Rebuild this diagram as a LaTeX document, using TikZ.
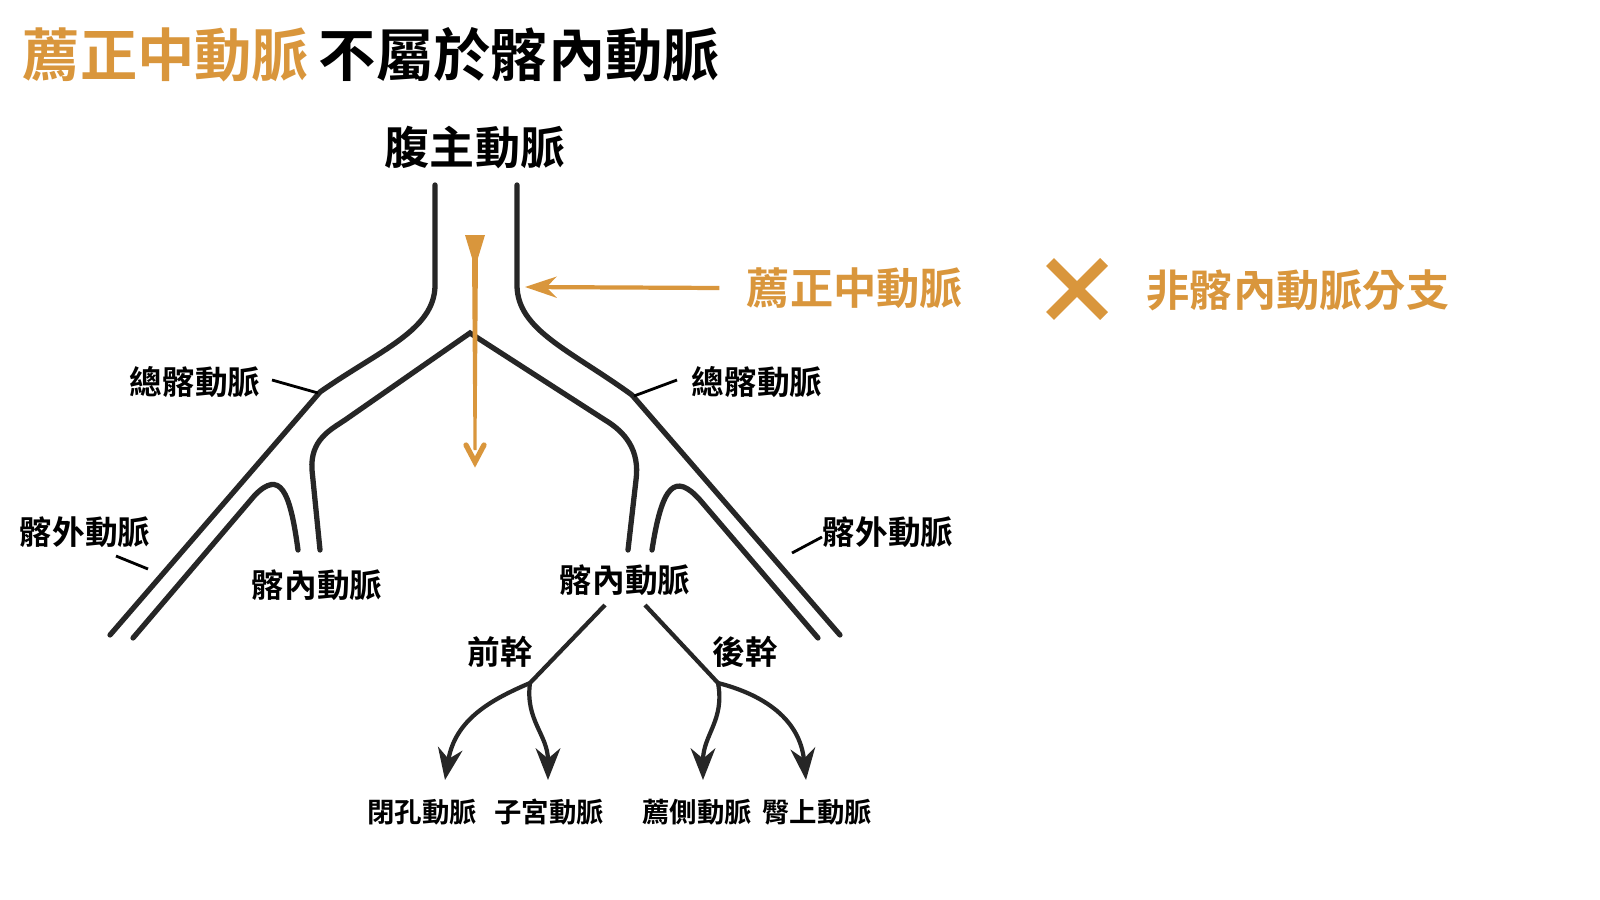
\documentclass[tikz,border=0pt]{standalone}
\usepackage{fontspec}
\setmainfont{Noto Sans CJK TC}
\newfontfamily\cjkb{Noto Sans CJK TC Bold}
\usetikzlibrary{arrows.meta}
\definecolor{org}{HTML}{D9963C}
\begin{document}
\begin{tikzpicture}[x=0.01cm,y=-0.01cm,
  vessel/.style={line width=1.5pt,line cap=round,black!85},
  lbl/.style={font=\cjkb\fontsize{9.3}{10}\selectfont,inner sep=1pt},
  sub/.style={font=\cjkb\fontsize{7.8}{9}\selectfont,inner sep=1pt},
  lead/.style={line width=0.8pt},
  br/.style={line width=1.2pt,black!85,-{Stealth[length=9pt,width=7pt]}}]
\useasboundingbox (0,0) rectangle (1600,900);
\fill[white] (0,0) rectangle (1600,900);
% title
\node[anchor=west,inner sep=0,font=\cjkb\fontsize{16.3}{18}\selectfont] (title) at (22,55) {\textcolor{org}{薦正中動脈}\,不屬於髂內動脈};
\node[font=\cjkb\fontsize{12.8}{14}\selectfont] (aorta) at (475,148) {腹主動脈};
% vessels
\draw[vessel] (435,185) -- (435,285) .. controls (435,330) and (380,350) .. (320,392) -- (110,635);
\draw[vessel] (133,638) -- (255,495) .. controls (280,470) and (290,490) .. (298,550);
\draw[vessel] (320,550) -- (312,470) .. controls (310,440) and (330,430) .. (345,420) -- (470,333) -- (605,420) .. controls (625,432) and (640,450) .. (636,480) -- (628,550);
\draw[vessel] (517,185) -- (517,285) .. controls (517,330) and (570,350) .. (632,395) -- (840,635);
\draw[vessel] (818,638) -- (700,500) .. controls (675,472) and (662,485) .. (652,550);
% orange arrow
\fill[org] (465,235) -- (485,235) -- (478,258) -- (472,258) -- cycle;
\fill[org] (472,255) -- (478,255) -- (476.5,450) -- (473.5,450) -- cycle;
\draw[org,line width=1.5pt,line cap=round] (466,445) -- (475,462) -- (484,445);
% label arrow
\node[font=\cjkb\fontsize{12.3}{14}\selectfont,text=org] (med) at (855,288) {薦正中動脈};
\coordinate (tip) at (525,287);
\draw[org,line width=1.2pt,-{Stealth[length=9pt,width=6pt]}] (med.west) ++(-15,0) -- (tip);
\node[font=\cjkb\fontsize{12.3}{14}\selectfont,text=org] (non) at (1298,290) {非髂內動脈分支};
\draw[org,line width=3.2pt] (1050,262) -- (1104,316) (1104,262) -- (1050,316);
% labels
\node[lbl] (cl) at (195,382) {總髂動脈};
\draw[lead] (272,380) -- (318,393);
\node[lbl] (cr) at (757,382) {總髂動脈};
\draw[lead] (677,380) -- (634,396);
\node[lbl] (el) at (85,532) {髂外動脈};
\draw[lead] (116,556) -- (148,569);
\node[lbl] (er) at (888,532) {髂外動脈};
\draw[lead] (822,537) -- (792,553);
\node[lbl] (il) at (317,585) {髂內動脈};
\node[lbl] (ir) at (625,580) {髂內動脈};
\node[lbl] (ant) at (500,652) {前幹};
\node[lbl] (post) at (745,652) {後幹};
% branches
\draw[line width=1.2pt,black!85] (605,605) -- (530,683);
\draw[br] (530,683) .. controls (490,700) and (455,720) .. (445,780);
\draw[br] (530,683) .. controls (525,720) and (548,735) .. (548,780);
\draw[line width=1.2pt,black!85] (645,605) -- (718,683);
\draw[br] (718,683) .. controls (725,720) and (703,735) .. (703,780);
\draw[br] (718,683) .. controls (765,695) and (800,720) .. (806,780);
\node[sub] (ob) at (422,812) {閉孔動脈};
\node[sub] (ut) at (549,812) {子宮動脈};
\node[sub] (ls) at (697,812) {薦側動脈};
\node[sub] (sg) at (817,812) {臀上動脈};
\end{tikzpicture}
\end{document}
